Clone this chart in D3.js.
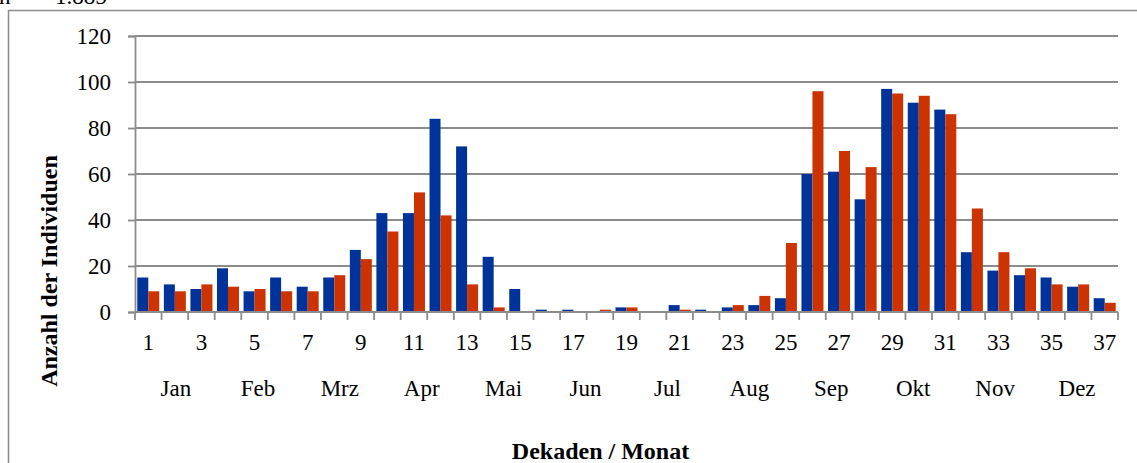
<!DOCTYPE html>
<html>
<head>
<meta charset="utf-8">
<script src="https://cdnjs.cloudflare.com/ajax/libs/d3/7.8.5/d3.min.js"></script>
<style>
  html, body { margin: 0; padding: 0; background: #fff; }
  svg { display: block; }
  text { font-family: "Liberation Serif", "Times New Roman", serif; fill: #000; }
</style>
</head>
<body>
<svg id="chart" width="1137" height="463"></svg>
<script>
const decades = d3.range(1, 38);
const seriesBlue = [15, 12, 10, 19, 9, 15, 11, 15, 27, 43, 43, 84, 72, 24, 10, 1, 1, 0, 2, 0, 3, 1, 2, 3, 6, 60, 61, 49, 97, 91, 88, 26, 18, 16, 15, 11, 6];
const seriesOrange = [9, 9, 12, 11, 10, 9, 9, 16, 23, 35, 52, 42, 12, 2, 0, 0, 0, 1, 2, 0, 1, 0, 3, 7, 30, 96, 70, 63, 95, 94, 86, 45, 26, 19, 12, 12, 4];
const months = ["Jan", "Feb", "Mrz", "Apr", "Mai", "Jun", "Jul", "Aug", "Sep", "Okt", "Nov", "Dez"];
const yTicks = [0, 20, 40, 60, 80, 100, 120];
const seriesNames = ["blue", "orange"];
const colors = { blue: "#003399", orange: "#CC3300" };

(function () {
const svg = d3.select("#chart");
const mLeft = 135, mRight = 1118, mTop = 36, mBottom = 312;
const gridColor = "#8c8c8c";

// outer frame (cut at right/bottom)
svg.append("path")
  .attr("d", "M8.5,463 L8.5,10.5 L1137,10.5")
  .attr("fill", "none").attr("stroke", gridColor).attr("stroke-width", 1.5);

// top text, mostly clipped
svg.append("text").attr("x", -1).attr("y", 4).attr("font-size", 23).text("n");
svg.append("text").attr("x", 22).attr("y", 4).attr("font-size", 23).text("=");
svg.append("text").attr("x", 55).attr("y", 4).attr("font-size", 23).text("1.885");

const x0 = d3.scaleBand().domain(decades).range([mLeft, mRight]).padding(0);
const x1 = d3.scaleBand().domain(seriesNames).range([0, x0.bandwidth()]).paddingInner(0).paddingOuter(0.2075);
const y = d3.scaleLinear().domain([0, 120]).range([mBottom, mTop]);

// gridlines
svg.append("g").selectAll("line").data(yTicks.filter(d => d > 0)).join("line")
  .attr("x1", mLeft).attr("x2", mRight)
  .attr("y1", d => y(d)).attr("y2", d => y(d))
  .attr("stroke", gridColor).attr("stroke-width", 1.8);

// y axis
const yAxis = d3.axisLeft(y).tickValues(yTicks).tickSize(7).tickPadding(17);
const gy = svg.append("g").attr("transform", `translate(${mLeft},0)`).call(yAxis);
gy.select(".domain").attr("stroke", gridColor).attr("stroke-width", 1.8);
gy.selectAll(".tick line").attr("stroke", gridColor).attr("stroke-width", 1.8);
gy.selectAll(".tick text").attr("font-size", 23).attr("font-family", "Liberation Serif").attr("fill", "#000").attr("dy", "0.34em");

// bars
const data = decades.map((d, i) => ({ d, blue: seriesBlue[i], orange: seriesOrange[i] }));
const groups = svg.append("g").selectAll("g").data(data).join("g")
  .attr("transform", r => `translate(${x0(r.d)},0)`);
groups.selectAll("rect").data(r => seriesNames.map(s => ({ s, v: r[s] }))).join("rect")
  .attr("x", e => x1(e.s))
  .attr("width", x1.bandwidth())
  .attr("y", e => y(e.v))
  .attr("height", e => y(0) - y(e.v))
  .attr("fill", e => colors[e.s]);

// x axis line and ticks at band boundaries
svg.append("line").attr("x1", mLeft).attr("x2", mRight).attr("y1", mBottom).attr("y2", mBottom)
  .attr("stroke", gridColor).attr("stroke-width", 1.8);
const boundaries = decades.map(d => x0(d)).concat([mRight]);
svg.append("g").selectAll("line").data(boundaries).join("line")
  .attr("x1", d => d).attr("x2", d => d).attr("y1", mBottom).attr("y2", mBottom + 8)
  .attr("stroke", gridColor).attr("stroke-width", 1.8);

// decade labels (odd)
svg.append("g").selectAll("text").data(decades.filter(d => d % 2 === 1)).join("text")
  .attr("x", d => x0(d) + x0.bandwidth() / 2)
  .attr("y", 350)
  .attr("text-anchor", "middle").attr("font-size", 23)
  .text(d => d);

// month labels
const xm = d3.scaleBand().domain(months).range([mLeft, mRight]);
svg.append("g").selectAll("text").data(months).join("text")
  .attr("x", m => xm(m) + xm.bandwidth() / 2)
  .attr("y", 396)
  .attr("text-anchor", "middle").attr("font-size", 23)
  .text(m => m);

// axis titles
svg.append("text").attr("x", (mLeft + mRight) / 2 - 26).attr("y", 459)
  .attr("text-anchor", "middle").attr("font-size", 24).attr("font-weight", "bold")
  .text("Dekaden / Monat");
svg.append("text").attr("transform", "translate(57,271) rotate(-90)")
  .attr("text-anchor", "middle").attr("font-size", 24).attr("font-weight", "bold")
  .text("Anzahl der Individuen");
})();
</script>
</body>
</html>
